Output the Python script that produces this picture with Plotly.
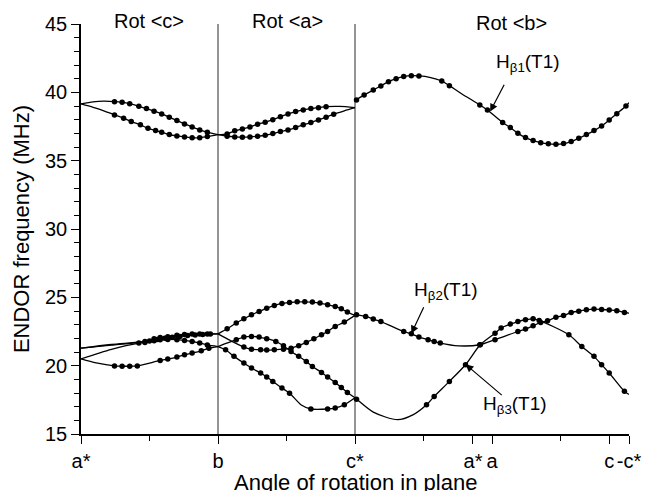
import plotly.graph_objects as go

# Rotation angle in degrees along the three rotation planes:
# Rot <c>: a* (0) -> b (90); Rot <a>: b (90) -> c* (180); Rot <b>: c* (180) -> -c* (360)
tick_vals = [0, 90, 180, 257.5, 270, 347, 360]
tick_text = ["a*", "b", "c*", "a*", "a", "c", "-c*"]
minor_vals = [45, 135, 225, 315]
plane_borders = [90, 180]
plane_names = ["Rot <c>", "Rot <a>", "Rot <b>"]

# ---- H beta1 (high frequency branch) ----
c_b1_up_dots_x = [22, 27, 32, 38, 43, 48, 53, 58, 63, 68, 73, 78, 83]
c_b1_up_dots_y = [39.32, 39.27, 39.17, 38.98, 38.81, 38.62, 38.42, 38.18, 37.93, 37.69, 37.47, 37.25, 37.08]
c_b1_up_knots_x = [0, 8, 15, 90]
c_b1_up_knots_y = [39.15, 39.3, 39.35, 36.9]

c_b1_lo_dots_x = [22, 28, 33, 39, 44, 49, 53, 58, 63, 68, 73, 78, 83]
c_b1_lo_dots_y = [38.35, 38.11, 37.86, 37.62, 37.37, 37.2, 37.08, 36.91, 36.81, 36.74, 36.67, 36.67, 36.76]
c_b1_lo_knots_x = [0, 8, 15, 90]
c_b1_lo_knots_y = [39.15, 38.9, 38.65, 36.9]

a_b1_up_dots_x = [96, 101, 106, 111, 116, 121, 126, 131, 136, 141, 146, 151, 156, 161]
a_b1_up_dots_y = [36.96, 37.18, 37.32, 37.47, 37.67, 37.81, 38.0, 38.22, 38.42, 38.59, 38.71, 38.81, 38.88, 38.95]
a_b1_up_knots_x = [90, 170, 180]
a_b1_up_knots_y = [36.9, 38.97, 38.88]

a_b1_lo_dots_x = [96, 101, 106, 111, 116, 121, 126, 131, 136, 141, 146, 151, 156, 161, 166]
a_b1_lo_dots_y = [36.79, 36.74, 36.72, 36.74, 36.79, 36.86, 36.98, 37.13, 37.25, 37.42, 37.62, 37.79, 37.98, 38.18, 38.4]
a_b1_lo_knots_x = [90, 173, 180]
a_b1_lo_knots_y = [36.9, 38.65, 38.88]

b_b1_dots_x = [181, 186, 192, 197, 202, 207, 212, 217, 222, 237, 242, 262, 267, 277, 282, 287, 292, 297,
               302, 307, 312, 317, 322, 327, 332, 337, 342, 347, 352, 358]
b_b1_dots_y = [39.44, 39.81, 40.17, 40.47, 40.78, 41.0, 41.15, 41.22, 41.2, 40.83, 40.49, 39.08, 38.71, 37.79,
               37.42, 37.0, 36.69, 36.47, 36.32, 36.23, 36.2, 36.25, 36.4, 36.64, 36.91, 37.2, 37.54, 37.98,
               38.44, 39.0]
b_b1_knots_x = [180, 229, 250, 360]
b_b1_knots_y = [39.3, 41.1, 39.9, 39.25]

# ---- H beta2 / H beta3 (low frequency branches) ----
c_lo1_dots_x = [42, 48, 52, 57, 63, 68, 73, 78, 83]
c_lo1_dots_y = [21.77, 21.97, 22.06, 22.12, 22.22, 22.28, 22.31, 22.31, 22.32]
c_lo1_knots_x = [0, 20, 90]
c_lo1_knots_y = [21.28, 21.55, 22.33]

c_lo1b_dots_x = [45, 50, 55, 60, 65, 70, 75, 80, 85]
c_lo1b_dots_y = [21.8, 21.92, 22.0, 22.08, 22.14, 22.2, 22.24, 22.28, 22.31]
c_lo1b_knots_x = [0, 20, 90]
c_lo1b_knots_y = [21.28, 21.5, 22.33]

c_lo2_dots_x = [38, 42, 48, 52, 57, 63, 68, 73, 78, 83]
c_lo2_dots_y = [21.65, 21.7, 21.82, 21.9, 21.92, 21.9, 21.84, 21.77, 21.65, 21.52]
c_lo2_knots_x = [0, 20, 90]
c_lo2_knots_y = [20.5, 21.2, 21.4]

c_lo3_dots_x = [22, 27, 32, 37, 52, 57, 63, 68, 73, 79, 84]
c_lo3_dots_y = [19.98, 19.96, 19.96, 19.98, 20.38, 20.48, 20.63, 20.8, 20.92, 21.09, 21.28]
c_lo3_knots_x = [0, 10, 90]
c_lo3_knots_y = [20.5, 20.2, 21.4]

a_p_dots_x = [96, 102, 107, 112, 117, 122, 127, 132, 137, 142, 147, 152, 157, 162, 167, 171, 175]
a_p_dots_y = [22.7, 23.12, 23.43, 23.72, 23.96, 24.21, 24.4, 24.55, 24.62, 24.67, 24.67, 24.65, 24.58,
              24.45, 24.33, 24.16, 23.92]
a_p_knots_x = [90, 180]
a_p_knots_y = [22.33, 23.68]

a_r_dots_x = [107, 112, 118, 122, 127, 133, 138, 143, 148, 153, 158, 162, 167, 173]
a_r_dots_y = [21.36, 21.21, 21.16, 21.14, 21.16, 21.21, 21.28, 21.46, 21.7, 21.97, 22.26, 22.5, 22.87, 23.19]
a_r_knots_x = [90, 98, 180]
a_r_knots_y = [22.33, 21.85, 23.68]

a_q_dots_x = [102, 107, 112, 117, 122, 128, 133, 138, 143, 148, 152, 158, 162, 167, 171, 175]
a_q_dots_y = [21.9, 22.09, 22.14, 22.09, 21.97, 21.77, 21.46, 21.04, 20.68, 20.31, 19.94, 19.5, 19.17,
              18.77, 18.41, 18.04]
a_q_knots_x = [90, 180]
a_q_knots_y = [21.4, 17.65]

a_s_dots_x = [95, 100.5, 107, 112, 118, 122, 126, 132, 137, 151, 162, 167, 173]
a_s_dots_y = [21.16, 20.68, 20.19, 19.83, 19.46, 19.17, 18.85, 18.36, 17.99, 16.83, 16.83, 16.9, 17.14]
a_s_knots_x = [90, 145, 180]
a_s_knots_y = [21.4, 17.1, 17.65]

b_b2_dots_x = [181, 187, 192, 197, 212, 217, 222, 228, 232, 236, 262, 272, 287, 292, 297, 302, 306.5,
               312, 317, 322, 327, 332, 337, 342, 347, 352, 357]
b_b2_dots_y = [23.72, 23.6, 23.41, 23.23, 22.5, 22.33, 22.09, 21.9, 21.77, 21.65, 21.53, 21.9, 22.5,
               22.68, 22.92, 23.16, 23.28, 23.55, 23.67, 23.89, 23.99, 24.09, 24.14, 24.11, 24.07, 24.02, 23.89]
b_b2_knots_x = [180, 248, 360]
b_b2_knots_y = [23.7, 21.45, 23.85]

b_b3_dots_x = [181, 227, 232, 242, 252.6, 262.3, 272, 276, 282, 287, 292, 297, 301, 320.5, 329, 337,
               342, 347, 357]
b_b3_dots_y = [17.55, 17.14, 17.75, 18.85, 20.07, 21.53, 22.38, 22.75, 23.04, 23.23, 23.36, 23.43, 23.31,
               22.26, 21.4, 20.68, 20.07, 19.46, 18.12]
b_b3_knots_x = [180, 192, 208, 218, 360]
b_b3_knots_y = [17.63, 16.6, 16.05, 16.4, 17.9]

curves = [
    (c_b1_up_dots_x, c_b1_up_dots_y, c_b1_up_knots_x, c_b1_up_knots_y),
    (c_b1_lo_dots_x, c_b1_lo_dots_y, c_b1_lo_knots_x, c_b1_lo_knots_y),
    (a_b1_up_dots_x, a_b1_up_dots_y, a_b1_up_knots_x, a_b1_up_knots_y),
    (a_b1_lo_dots_x, a_b1_lo_dots_y, a_b1_lo_knots_x, a_b1_lo_knots_y),
    (b_b1_dots_x, b_b1_dots_y, b_b1_knots_x, b_b1_knots_y),
    (c_lo1_dots_x, c_lo1_dots_y, c_lo1_knots_x, c_lo1_knots_y),
    (c_lo1b_dots_x, c_lo1b_dots_y, c_lo1b_knots_x, c_lo1b_knots_y),
    (c_lo2_dots_x, c_lo2_dots_y, c_lo2_knots_x, c_lo2_knots_y),
    (c_lo3_dots_x, c_lo3_dots_y, c_lo3_knots_x, c_lo3_knots_y),
    (a_p_dots_x, a_p_dots_y, a_p_knots_x, a_p_knots_y),
    (a_r_dots_x, a_r_dots_y, a_r_knots_x, a_r_knots_y),
    (a_q_dots_x, a_q_dots_y, a_q_knots_x, a_q_knots_y),
    (a_s_dots_x, a_s_dots_y, a_s_knots_x, a_s_knots_y),
    (b_b2_dots_x, b_b2_dots_y, b_b2_knots_x, b_b2_knots_y),
    (b_b3_dots_x, b_b3_dots_y, b_b3_knots_x, b_b3_knots_y),
]

FONT = "Arial, Liberation Sans, sans-serif"
fig = go.Figure()

for bx in plane_borders:
    fig.add_shape(type="line", x0=bx, x1=bx, y0=15, y1=45, xref="x", yref="y",
                  line=dict(color="#707070", width=1.5), layer="below")

for dx, dy, kx, ky in curves:
    pts = sorted(zip(list(dx) + list(kx), list(dy) + list(ky)))
    fig.add_trace(go.Scatter(x=[p[0] for p in pts], y=[p[1] for p in pts], mode="lines",
                             line=dict(color="black", width=1.3, shape="spline", smoothing=0.8),
                             hoverinfo="skip", showlegend=False))
    fig.add_trace(go.Scatter(x=dx, y=dy, mode="markers",
                             marker=dict(color="black", size=5.5),
                             hoverinfo="skip", showlegend=False))

# plane headers, centred over each rotation plane (paper coordinates along x)
for name, xc, yc in zip(plane_names, [0.1244, 0.3769, 0.7849], [1.0085, 1.0085, 1.0036]):
    fig.add_annotation(x=xc, y=yc, xref="paper", yref="paper",
                       text=name.replace("<", "&lt;").replace(">", "&gt;"),
                       showarrow=False, font=dict(family=FONT, size=20, color="black"),
                       xanchor="center", yanchor="middle")

# labelled arrows
labels = [
    ("H<sub>β1</sub>(T1)", 293.6, 42.15, 268.8, 38.59, 278.5, 40.66),
    ("H<sub>β2</sub>(T1)", 239.8, 25.48, 217.0, 22.35, 225.6, 24.38),
    ("H<sub>β3</sub>(T1)", 284.9, 17.14, 252.6, 20.1, 277.4, 17.75),
]
for txt, tx, ty, hx, hy, sx, sy in labels:
    fig.add_annotation(x=tx, y=ty, xref="x", yref="y", text=txt, showarrow=False,
                       font=dict(family=FONT, size=19, color="black"))
    fig.add_annotation(x=hx, y=hy, ax=sx, ay=sy, xref="x", yref="y", axref="x", ayref="y",
                       text="", showarrow=True, arrowhead=2, arrowsize=1.3, arrowwidth=1.2,
                       arrowcolor="black", standoff=0, startstandoff=0)

# axis titles
fig.add_annotation(x=0.5, y=-0.1175, xref="paper", yref="paper", text="Angle of rotation in plane",
                   showarrow=False, font=dict(family=FONT, size=22, color="black"),
                   xanchor="center", yanchor="middle")
fig.add_annotation(x=-0.1093, y=0.5, xref="paper", yref="paper", text="ENDOR frequency (MHz)",
                   showarrow=False, textangle=-90, font=dict(family=FONT, size=22, color="black"),
                   xanchor="center", yanchor="middle")

axis_common = dict(showline=True, linecolor="black", linewidth=1.5, ticks="outside",
                   tickcolor="black", tickwidth=1.3, showgrid=False, zeroline=False,
                   tickfont=dict(family=FONT, size=20, color="black"))

fig.update_xaxes(range=[0, 360], tickmode="array", tickvals=tick_vals, ticktext=tick_text, ticklen=8,
                 minor=dict(tickmode="array", tickvals=minor_vals, ticklen=5, tickcolor="black", tickwidth=1.3),
                 **axis_common)
fig.update_yaxes(range=[15, 45], tickmode="array", tickvals=[15, 20, 25, 30, 35, 40, 45], ticklen=8,
                 minor=dict(dtick=1, ticklen=5, tickcolor="black", tickwidth=1.3, ticks="outside"),
                 **axis_common)

fig.update_layout(width=653, height=491, margin=dict(l=81, r=15, t=24, b=57),
                  plot_bgcolor="white", paper_bgcolor="white", showlegend=False)

fig.write_html("out.html")
